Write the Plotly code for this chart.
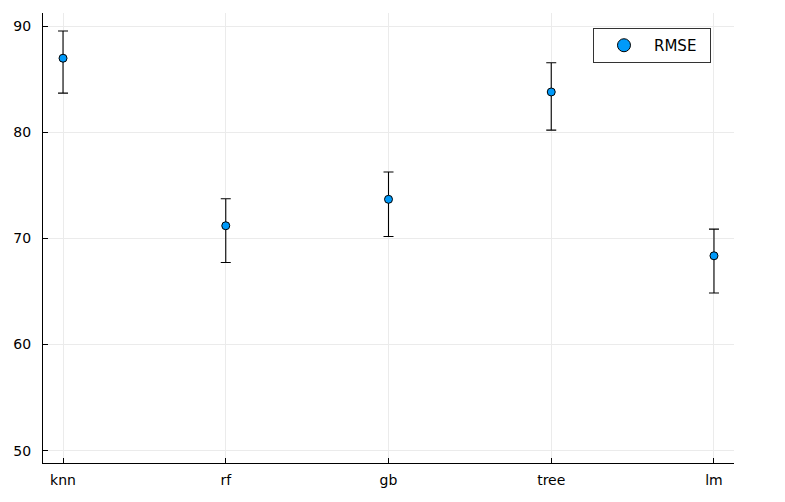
import plotly.graph_objects as go

models = ["knn", "rf", "gb", "tree", "lm"]
rmse = [86.97, 71.19, 73.68, 83.79, 68.36]
upper = [89.53, 73.73, 76.25, 86.55, 70.87]
lower = [83.68, 67.73, 70.17, 80.20, 64.85]
y_ticks = [50, 60, 70, 80, 90]

err_plus = [u - m for u, m in zip(upper, rmse)]
err_minus = [m - l for m, l in zip(rmse, lower)]
xs = list(range(len(models)))

fig = go.Figure()
fig.add_trace(go.Scatter(
    x=xs, y=rmse, mode="markers", name="RMSE", showlegend=False,
    marker=dict(color="#009afa", size=8, line=dict(color="black", width=1)),
    error_y=dict(type="data", symmetric=False, array=err_plus, arrayminus=err_minus,
                 color="black", thickness=1.1, width=5),
))
fig.add_trace(go.Scatter(
    x=[None], y=[None], mode="markers", name="RMSE",
    marker=dict(color="#009afa", size=13, line=dict(color="black", width=1)),
))

axis_common = dict(
    showline=True, linecolor="black", linewidth=1, mirror=False,
    showgrid=True, gridcolor="#ebebeb", gridwidth=1,
    ticks="inside", ticklen=5, tickcolor="black", tickwidth=1,
    zeroline=False, tickfont=dict(family="DejaVu Sans", size=14, color="black"),
)
fig.update_xaxes(range=[-0.123, 4.123], tickvals=xs, ticktext=models,
                 ticklabelstandoff=4, **axis_common)
fig.update_yaxes(range=[48.84, 91.23], tickvals=y_ticks,
                 ticklabelstandoff=8, **axis_common)

fig.update_layout(
    width=785, height=502, margin=dict(l=43, r=51, t=13, b=39),
    plot_bgcolor="white", paper_bgcolor="white",
    font=dict(family="DejaVu Sans", size=14, color="black"),
    legend=dict(x=0.9667, y=0.9667, xanchor="right", yanchor="top",
                orientation="h", entrywidth=51, entrywidthmode="pixels",
                bordercolor="#333333", borderwidth=1, bgcolor="white",
                itemwidth=50, font=dict(size=15)),
)
fig.write_html("out.html")
